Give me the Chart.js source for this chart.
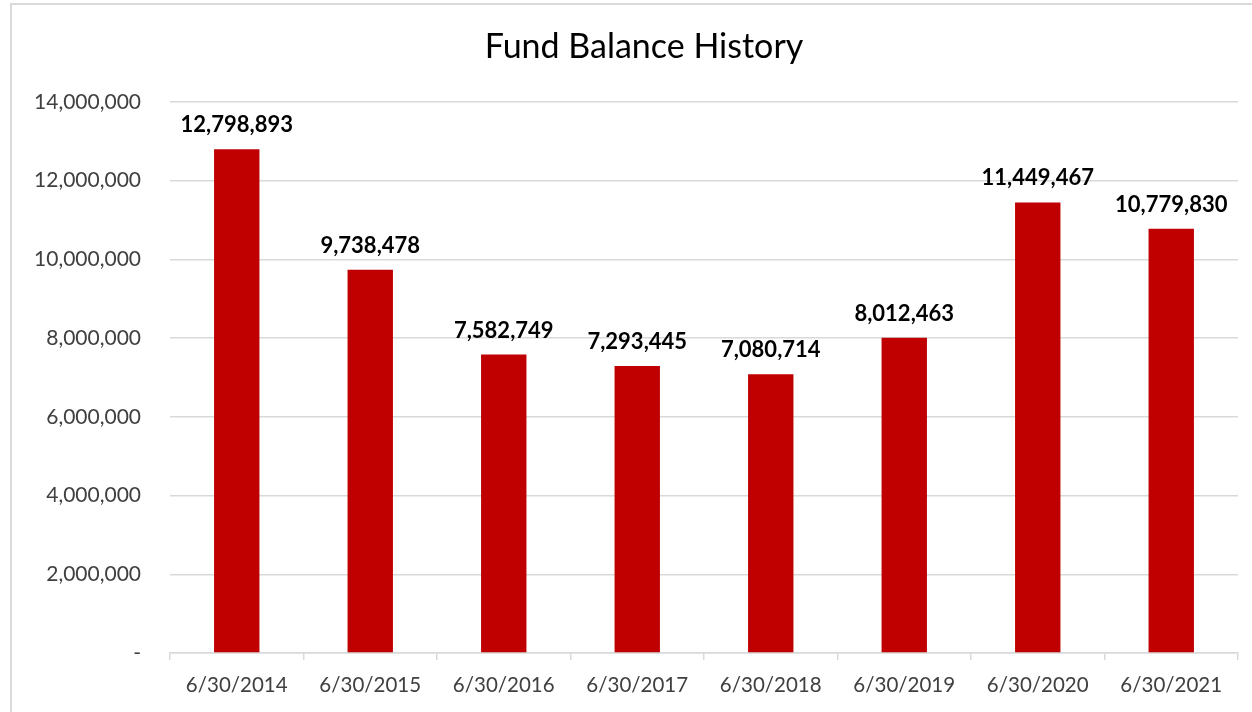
<!DOCTYPE html>
<html>
<head>
<meta charset="utf-8">
<script src="https://cdn.jsdelivr.net/npm/chart.js@4/dist/chart.umd.min.js"></script>
<style>
  html, body { margin: 0; padding: 0; background: #fff; }
  .chart-container { position: relative; width: 1252px; height: 712px; }
  .frame { position: absolute; left: 10px; top: 3px; width: 1260px; height: 740px; border: 2px solid #d9d9d9; box-sizing: border-box; pointer-events: none; }
</style>
</head>
<body>
<div class="chart-container">
  <canvas id="fundChart" width="1252" height="712"></canvas>
  <div class="frame"></div>
</div>
<script>
const categories = ['6/30/2014', '6/30/2015', '6/30/2016', '6/30/2017', '6/30/2018', '6/30/2019', '6/30/2020', '6/30/2021'];
const balances = [12798893, 9738478, 7582749, 7293445, 7080714, 8012463, 11449467, 10779830];
const yTicks = [0, 2000000, 4000000, 6000000, 8000000, 10000000, 12000000, 14000000];

const fontFamily = 'Lato, "Open Sans", sans-serif';

// draw value labels above each bar
const barLabels = {
    id: 'barLabels',
    afterDatasetsDraw(chart) {
        const ctx = chart.ctx;
        const meta = chart.getDatasetMeta(0);
        ctx.save();
        ctx.font = 'bold 22px ' + fontFamily;
        ctx.fillStyle = '#000';
        ctx.textAlign = 'center';
        ctx.textBaseline = 'middle';
        meta.data.forEach((bar, i) => {
            ctx.fillText(balances[i].toLocaleString('en-US'), bar.x, bar.y - 24);
        });
        ctx.restore();
    }
};

// the outer frame runs past the right edge, so the title sits a bit right of centre
const shiftTitle = {
    id: 'shiftTitle',
    afterLayout(chart) {
        if (chart.titleBlock) {
            chart.titleBlock.left += 20;
            chart.titleBlock.right += 20;
        }
    }
};

document.addEventListener('DOMContentLoaded', () => {
    const ctx = document.getElementById('fundChart').getContext('2d');
    new Chart(ctx, {
        type: 'bar',
        data: {
            labels: categories,
            datasets: [{
                label: 'Fund Balance',
                data: balances,
                backgroundColor: '#C00000',
                barPercentage: 0.34,
                categoryPercentage: 1.0
            }]
        },
        options: {
            responsive: false,
            animation: false,
            layout: { padding: { left: 10, right: 14, top: 0, bottom: 0 } },
            scales: {
                y: {
                    min: 0,
                    max: 14000000,
                    afterBuildTicks: (scale) => { scale.ticks = yTicks.map(v => ({ value: v })); },
                    afterFit: (scale) => { scale.width = 160; },
                    ticks: {
                        color: '#404040',
                        padding: 29,
                        font: { family: fontFamily, size: 21 },
                        callback: (value) => value === 0 ? '-' : value.toLocaleString('en-US')
                    },
                    grid: { color: '#d9d9d9', lineWidth: 1.5, drawTicks: false },
                    border: { display: false }
                },
                x: {
                    afterFit: (scale) => { scale.height = 59; },
                    ticks: {
                        color: '#404040',
                        padding: 13,
                        font: { family: fontFamily, size: 20.5 }
                    },
                    grid: { drawOnChartArea: false, drawTicks: true, tickLength: 7, color: '#d9d9d9', lineWidth: 1.5 },
                    border: { display: true, color: '#d9d9d9', width: 1.5 }
                }
            },
            plugins: {
                legend: { display: false },
                tooltip: { enabled: false },
                title: {
                    display: true,
                    text: 'Fund Balance History',
                    color: '#000',
                    font: { family: fontFamily, size: 34, weight: 'normal' },
                    padding: { top: 27, bottom: 34.2 }
                }
            }
        },
        plugins: [barLabels, shiftTitle]
    });
});
</script>
</body>
</html>
